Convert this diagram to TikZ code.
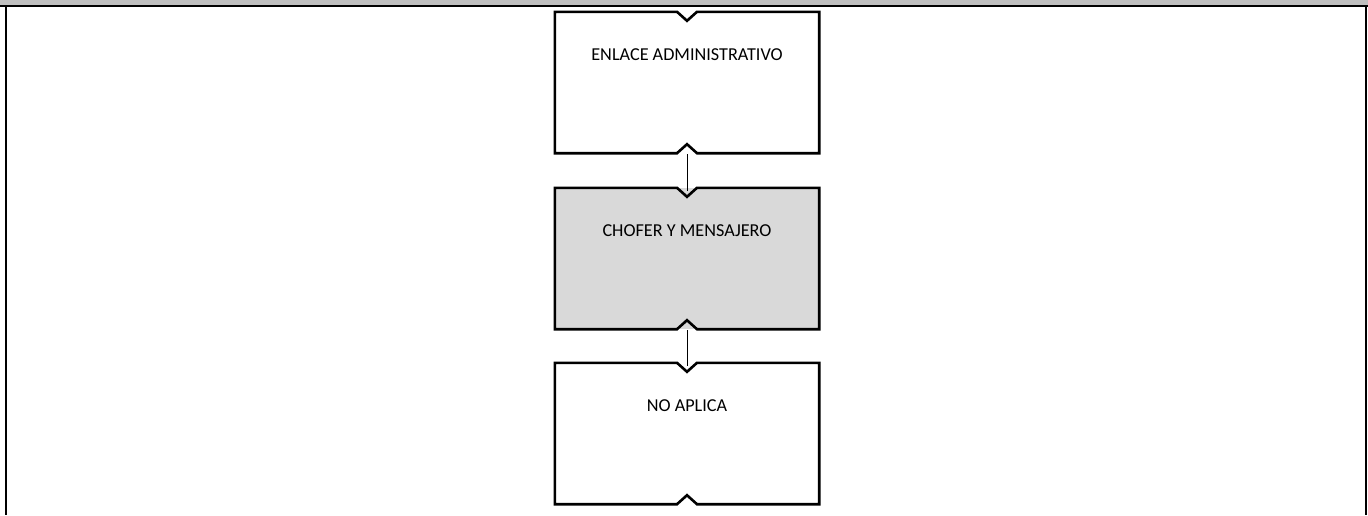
\documentclass[tikz,border=0pt]{standalone}
\usepackage{fontspec}
\setmainfont{Carlito}
\usetikzlibrary{calc}
\definecolor{hdrgray}{HTML}{BFBFBF}
\definecolor{boxgray}{HTML}{D9D9D9}
\tikzset{
  orgbox/.style={minimum width=264pt, minimum height=141pt, inner sep=0pt},
  lbl/.style={inner sep=0pt, font=\fontsize{18.2}{21}\selectfont},
  outline/.style={line width=2.6pt, line join=miter, draw=black},
  conn/.style={line width=1pt, draw=black},
  frameline/.style={line width=2.2pt, draw=black}
}
\begin{document}
\begin{tikzpicture}[x=1pt,y=-1pt]
\useasboundingbox (0,0) rectangle (1368,515);
\fill[hdrgray] (0,0) rectangle (1368,6);
\coordinate (tl) at (0,6);
\coordinate (tr) at (1368,6);
\coordinate (fl) at (6,6);
\coordinate (fr) at (1366,6);
\coordinate (flb) at (6,515);
\coordinate (frb) at (1366,515);
\draw[frameline] (tl) -- (tr);
\draw[frameline] (fl) -- (flb);
\draw[frameline] (fr) -- (frb);

\node[orgbox, fill=white] (b1) at (687,82.5) {};
\node[orgbox, fill=boxgray] (b2) at (687,258.5) {};
\node[orgbox, fill=white] (b3) at (687,433.5) {};

\foreach \b in {b1,b2,b3}{
  \draw[outline] (\b.north west) -- ($(\b.north)+(-10,0)$) -- ($(\b.north)+(0,9)$) -- ($(\b.north)+(10,0)$)
    -- (\b.north east) -- (\b.south east) -- ($(\b.south)+(10,0)$) -- ($(\b.south)+(0,-9)$)
    -- ($(\b.south)+(-10,0)$) -- (\b.south west) -- cycle;
}
\node[lbl] (t1) at ($(b1.center)+(0,-28)$) {ENLACE ADMINISTRATIVO};
\node[lbl] (t2) at ($(b2.center)+(0,-28)$) {CHOFER Y MENSAJERO};
\node[lbl] (t3) at ($(b3.center)+(0,-28)$) {NO APLICA};

\draw[conn] ($(b1.south)+(0,1)$) -- ($(b2.north)+(0,3)$);
\draw[conn] ($(b2.south)+(0,1)$) -- ($(b3.north)+(0,3)$);
\end{tikzpicture}
\end{document}
